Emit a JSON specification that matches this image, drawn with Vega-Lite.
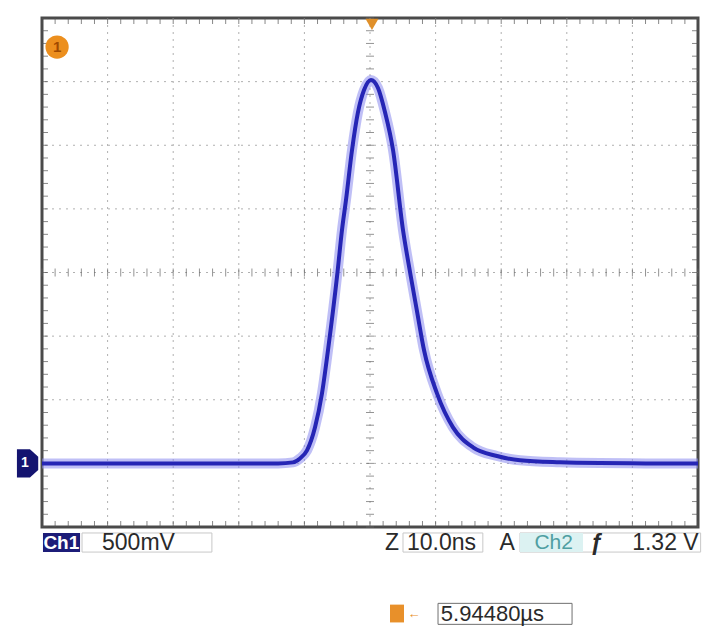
{
  "$schema": "https://vega.github.io/schema/vega-lite/v6.json",
  "width": 656,
  "height": 509,
  "autosize": {"type": "none"},
  "padding": {"left": 42, "top": 18, "right": 6, "bottom": 100},
  "background": "white",
  "config": {
    "view": {"stroke": "#4a4a4a", "strokeWidth": 3},
    "axis": {"disable": true},
    "font": "Liberation Sans"
  },
  "datasets": {
    "one": [{"k": 1}],
    "trace": [
      {"t": -50, "v": 0.0}, {"t": -40, "v": 0.0}, {"t": -30, "v": 0.0}, {"t": -20, "v": 0.0},
      {"t": -14, "v": 0.0}, {"t": -11.74, "v": 0.008}, {"t": -10.67, "v": 0.039}, {"t": -9.6, "v": 0.102},
      {"t": -8.38, "v": 0.283}, {"t": -7.32, "v": 0.55}, {"t": -6.4, "v": 0.891}, {"t": -4.95, "v": 1.504},
      {"t": -4.27, "v": 1.834}, {"t": -3.66, "v": 2.07}, {"t": -2.74, "v": 2.463}, {"t": -1.83, "v": 2.76},
      {"t": -0.91, "v": 2.934}, {"t": 0.15, "v": 3.013}, {"t": 1.22, "v": 2.95}, {"t": 2.29, "v": 2.76},
      {"t": 3.51, "v": 2.463}, {"t": 5.03, "v": 1.834}, {"t": 6.1, "v": 1.504}, {"t": 7.16, "v": 1.197},
      {"t": 8.23, "v": 0.891}, {"t": 10.21, "v": 0.55}, {"t": 12.65, "v": 0.283}, {"t": 15.7, "v": 0.126},
      {"t": 19.36, "v": 0.058}, {"t": 22.87, "v": 0.024}, {"t": 28.96, "v": 0.008}, {"t": 35, "v": 0.002},
      {"t": 42, "v": 0.0}, {"t": 50, "v": 0.0}
    ],
    "gridX": [{"t": -40}, {"t": -30}, {"t": -20}, {"t": -10}, {"t": 0}, {"t": 10}, {"t": 20}, {"t": 30}, {"t": 40}],
    "gridY": [{"v": 0}, {"v": 0.5}, {"v": 1.0}, {"v": 1.5}, {"v": 2.0}, {"v": 2.5}, {"v": 3.0}],
    "minorX": [
      {"t": -50}, {"t": -48}, {"t": -46}, {"t": -44}, {"t": -42}, {"t": -40}, {"t": -38}, {"t": -36}, {"t": -34}, {"t": -32},
      {"t": -30}, {"t": -28}, {"t": -26}, {"t": -24}, {"t": -22}, {"t": -20}, {"t": -18}, {"t": -16}, {"t": -14}, {"t": -12},
      {"t": -10}, {"t": -8}, {"t": -6}, {"t": -4}, {"t": -2}, {"t": 0}, {"t": 2}, {"t": 4}, {"t": 6}, {"t": 8},
      {"t": 10}, {"t": 12}, {"t": 14}, {"t": 16}, {"t": 18}, {"t": 20}, {"t": 22}, {"t": 24}, {"t": 26}, {"t": 28},
      {"t": 30}, {"t": 32}, {"t": 34}, {"t": 36}, {"t": 38}, {"t": 40}, {"t": 42}, {"t": 44}, {"t": 46}, {"t": 48}, {"t": 50}
    ],
    "minorY": [
      {"v": -0.5}, {"v": -0.4}, {"v": -0.3}, {"v": -0.2}, {"v": -0.1}, {"v": 0.0}, {"v": 0.1}, {"v": 0.2}, {"v": 0.3}, {"v": 0.4},
      {"v": 0.5}, {"v": 0.6}, {"v": 0.7}, {"v": 0.8}, {"v": 0.9}, {"v": 1.0}, {"v": 1.1}, {"v": 1.2}, {"v": 1.3}, {"v": 1.4},
      {"v": 1.5}, {"v": 1.6}, {"v": 1.7}, {"v": 1.8}, {"v": 1.9}, {"v": 2.0}, {"v": 2.1}, {"v": 2.2}, {"v": 2.3}, {"v": 2.4},
      {"v": 2.5}, {"v": 2.6}, {"v": 2.7}, {"v": 2.8}, {"v": 2.9}, {"v": 3.0}, {"v": 3.1}, {"v": 3.2}, {"v": 3.3}, {"v": 3.4}, {"v": 3.5}
    ]
  },
  "layer": [
    {
      "data": {"name": "gridX"},
      "mark": {"type": "rule", "color": "#b0b0b0", "strokeDash": [2, 5], "strokeWidth": 1},
      "encoding": {"x": {"field": "t", "type": "quantitative", "scale": {"domain": [-50, 50], "nice": false, "zero": false}, "axis": null}}
    },
    {
      "data": {"name": "gridY"},
      "mark": {"type": "rule", "color": "#b0b0b0", "strokeDash": [2, 5], "strokeWidth": 1},
      "encoding": {"y": {"field": "v", "type": "quantitative", "scale": {"domain": [-0.5, 3.5], "nice": false, "zero": false}, "axis": null}}
    },
    {
      "data": {"name": "minorX"},
      "mark": {"type": "tick", "orient": "vertical", "size": 12, "thickness": 1, "color": "#555555", "clip": true},
      "encoding": {
        "x": {"field": "t", "type": "quantitative", "scale": {"domain": [-50, 50], "nice": false, "zero": false}, "axis": null},
        "y": {"datum": -0.5, "scale": {"domain": [-0.5, 3.5], "nice": false, "zero": false}, "axis": null}
      }
    },
    {
      "data": {"name": "minorX"},
      "mark": {"type": "tick", "orient": "vertical", "size": 12, "thickness": 1, "color": "#555555", "clip": true},
      "encoding": {
        "x": {"field": "t", "type": "quantitative", "scale": {"domain": [-50, 50], "nice": false, "zero": false}, "axis": null},
        "y": {"datum": 3.5, "scale": {"domain": [-0.5, 3.5], "nice": false, "zero": false}, "axis": null}
      }
    },
    {
      "data": {"name": "minorX"},
      "mark": {"type": "tick", "orient": "vertical", "size": 8, "thickness": 1, "color": "#666666"},
      "encoding": {
        "x": {"field": "t", "type": "quantitative", "scale": {"domain": [-50, 50], "nice": false, "zero": false}, "axis": null},
        "y": {"datum": 1.5, "scale": {"domain": [-0.5, 3.5], "nice": false, "zero": false}, "axis": null}
      }
    },
    {
      "data": {"name": "minorY"},
      "mark": {"type": "tick", "orient": "horizontal", "size": 12, "thickness": 1, "color": "#555555", "clip": true},
      "encoding": {
        "y": {"field": "v", "type": "quantitative", "scale": {"domain": [-0.5, 3.5], "nice": false, "zero": false}, "axis": null},
        "x": {"datum": -50, "scale": {"domain": [-50, 50], "nice": false, "zero": false}, "axis": null}
      }
    },
    {
      "data": {"name": "minorY"},
      "mark": {"type": "tick", "orient": "horizontal", "size": 12, "thickness": 1, "color": "#555555", "clip": true},
      "encoding": {
        "y": {"field": "v", "type": "quantitative", "scale": {"domain": [-0.5, 3.5], "nice": false, "zero": false}, "axis": null},
        "x": {"datum": 50, "scale": {"domain": [-50, 50], "nice": false, "zero": false}, "axis": null}
      }
    },
    {
      "data": {"name": "minorY"},
      "mark": {"type": "tick", "orient": "horizontal", "size": 8, "thickness": 1, "color": "#666666"},
      "encoding": {
        "y": {"field": "v", "type": "quantitative", "scale": {"domain": [-0.5, 3.5], "nice": false, "zero": false}, "axis": null},
        "x": {"datum": 0, "scale": {"domain": [-50, 50], "nice": false, "zero": false}, "axis": null}
      }
    },
    {
      "data": {"name": "trace"},
      "mark": {"type": "line", "interpolate": "monotone", "color": "#8a8aee", "strokeWidth": 10, "opacity": 0.55, "clip": true},
      "encoding": {
        "x": {"field": "t", "type": "quantitative", "scale": {"domain": [-50, 50], "nice": false, "zero": false}, "axis": null},
        "y": {"field": "v", "type": "quantitative", "scale": {"domain": [-0.5, 3.5], "nice": false, "zero": false}, "axis": null}
      }
    },
    {
      "data": {"name": "trace"},
      "mark": {"type": "line", "interpolate": "monotone", "color": "#2525b5", "strokeWidth": 4, "clip": true},
      "encoding": {
        "x": {"field": "t", "type": "quantitative", "scale": {"domain": [-50, 50], "nice": false, "zero": false}, "axis": null},
        "y": {"field": "v", "type": "quantitative", "scale": {"domain": [-0.5, 3.5], "nice": false, "zero": false}, "axis": null}
      }
    },
    {
      "data": {"name": "one"},
      "mark": {"type": "point", "shape": "M-0.9,-1.2L0.2,-1.2L0.9,-0.55L0.9,0.55L0.2,1.2L-0.9,1.2Z", "filled": true, "color": "#141470", "opacity": 1, "size": 560, "clip": false},
      "encoding": {
        "x": {"datum": -52.2, "scale": {"domain": [-50, 50], "nice": false, "zero": false}, "axis": null},
        "y": {"datum": 0, "scale": {"domain": [-0.5, 3.5], "nice": false, "zero": false}, "axis": null}
      }
    },
    {
      "data": {"name": "one"},
      "mark": {"type": "text", "text": "1", "color": "#ffffff", "fontSize": 14, "fontWeight": "bold", "baseline": "middle", "align": "center"},
      "encoding": {
        "x": {"datum": -52.6, "scale": {"domain": [-50, 50], "nice": false, "zero": false}, "axis": null},
        "y": {"datum": 0, "scale": {"domain": [-0.5, 3.5], "nice": false, "zero": false}, "axis": null}
      }
    },
    {
      "data": {"name": "one"},
      "mark": {"type": "point", "shape": "circle", "filled": true, "color": "#ec8f1e", "opacity": 1, "size": 540},
      "encoding": {
        "x": {"datum": -47.7, "scale": {"domain": [-50, 50], "nice": false, "zero": false}, "axis": null},
        "y": {"datum": 3.272, "scale": {"domain": [-0.5, 3.5], "nice": false, "zero": false}, "axis": null}
      }
    },
    {
      "data": {"name": "one"},
      "mark": {"type": "text", "text": "1", "color": "#a04a00", "fontSize": 15, "fontWeight": "bold", "baseline": "middle", "align": "center"},
      "encoding": {
        "x": {"datum": -47.7, "scale": {"domain": [-50, 50], "nice": false, "zero": false}, "axis": null},
        "y": {"datum": 3.272, "scale": {"domain": [-0.5, 3.5], "nice": false, "zero": false}, "axis": null}
      }
    },
    {
      "data": {"name": "one"},
      "mark": {"type": "point", "shape": "triangle-down", "filled": true, "color": "#e0902a", "opacity": 1, "size": 170, "clip": false},
      "encoding": {
        "x": {"datum": 0.3, "scale": {"domain": [-50, 50], "nice": false, "zero": false}, "axis": null},
        "y": {"datum": 3.45, "scale": {"domain": [-0.5, 3.5], "nice": false, "zero": false}, "axis": null}
      }
    },
    {
      "data": {"name": "one"},
      "mark": {"type": "rect", "color": "#1c1c78", "clip": false},
      "encoding": {
        "x": {"datum": -49.85, "scale": {"domain": [-50, 50], "nice": false, "zero": false}, "axis": null},
        "x2": {"datum": -44.2},
        "y": {"datum": -0.547, "scale": {"domain": [-0.5, 3.5], "nice": false, "zero": false}, "axis": null},
        "y2": {"datum": -0.697}
      }
    },
    {
      "data": {"name": "one"},
      "mark": {"type": "rect", "filled": false, "stroke": "#c8c8c8", "strokeWidth": 1, "clip": false},
      "encoding": {
        "x": {"datum": -43.9, "scale": {"domain": [-50, 50], "nice": false, "zero": false}, "axis": null},
        "x2": {"datum": -24.1},
        "y": {"datum": -0.547, "scale": {"domain": [-0.5, 3.5], "nice": false, "zero": false}, "axis": null},
        "y2": {"datum": -0.697}
      }
    },
    {
      "data": {"name": "one"},
      "mark": {"type": "rect", "filled": false, "stroke": "#c8c8c8", "strokeWidth": 1, "clip": false},
      "encoding": {
        "x": {"datum": 5.03, "scale": {"domain": [-50, 50], "nice": false, "zero": false}, "axis": null},
        "x2": {"datum": 17.2},
        "y": {"datum": -0.547, "scale": {"domain": [-0.5, 3.5], "nice": false, "zero": false}, "axis": null},
        "y2": {"datum": -0.697}
      }
    },
    {
      "data": {"name": "one"},
      "mark": {"type": "rect", "filled": false, "stroke": "#c8c8c8", "strokeWidth": 1, "clip": false},
      "encoding": {
        "x": {"datum": 22.87, "scale": {"domain": [-50, 50], "nice": false, "zero": false}, "axis": null},
        "x2": {"datum": 50.4},
        "y": {"datum": -0.547, "scale": {"domain": [-0.5, 3.5], "nice": false, "zero": false}, "axis": null},
        "y2": {"datum": -0.697}
      }
    },
    {
      "data": {"name": "one"},
      "mark": {"type": "rect", "color": "#dcf2f2", "clip": false},
      "encoding": {
        "x": {"datum": 22.87, "scale": {"domain": [-50, 50], "nice": false, "zero": false}, "axis": null},
        "x2": {"datum": 32.47},
        "y": {"datum": -0.547, "scale": {"domain": [-0.5, 3.5], "nice": false, "zero": false}, "axis": null},
        "y2": {"datum": -0.697}
      }
    },
    {
      "data": {"name": "one"},
      "mark": {"type": "rect", "filled": false, "stroke": "#707070", "strokeWidth": 1, "clip": false},
      "encoding": {
        "x": {"datum": 10.37, "scale": {"domain": [-50, 50], "nice": false, "zero": false}, "axis": null},
        "x2": {"datum": 30.8},
        "y": {"datum": -1.1, "scale": {"domain": [-0.5, 3.5], "nice": false, "zero": false}, "axis": null},
        "y2": {"datum": -1.265}
      }
    },
    {
      "data": {"name": "one"},
      "mark": {"type": "rect", "color": "#e8902a", "clip": false},
      "encoding": {
        "x": {"datum": 3.05, "scale": {"domain": [-50, 50], "nice": false, "zero": false}, "axis": null},
        "x2": {"datum": 5.18},
        "y": {"datum": -1.11, "scale": {"domain": [-0.5, 3.5], "nice": false, "zero": false}, "axis": null},
        "y2": {"datum": -1.25}
      }
    },
    {
      "data": {"name": "one"},
      "mark": {"type": "text", "text": "Ch1", "color": "#ffffff", "fontSize": 19, "fontWeight": "bold", "align": "center", "baseline": "middle"},
      "encoding": {
        "x": {"datum": -47.05, "scale": {"domain": [-50, 50], "nice": false, "zero": false}, "axis": null},
        "y": {"datum": -0.622, "scale": {"domain": [-0.5, 3.5], "nice": false, "zero": false}, "axis": null}
      }
    },
    {
      "data": {"name": "one"},
      "mark": {"type": "text", "text": "500mV", "color": "#2a2a2a", "fontSize": 23, "align": "left", "baseline": "middle"},
      "encoding": {
        "x": {"datum": -40.85, "scale": {"domain": [-50, 50], "nice": false, "zero": false}, "axis": null},
        "y": {"datum": -0.622, "scale": {"domain": [-0.5, 3.5], "nice": false, "zero": false}, "axis": null}
      }
    },
    {
      "data": {"name": "one"},
      "mark": {"type": "text", "text": "Z", "color": "#2a2a2a", "fontSize": 23, "align": "center", "baseline": "middle"},
      "encoding": {
        "x": {"datum": 3.35, "scale": {"domain": [-50, 50], "nice": false, "zero": false}, "axis": null},
        "y": {"datum": -0.622, "scale": {"domain": [-0.5, 3.5], "nice": false, "zero": false}, "axis": null}
      }
    },
    {
      "data": {"name": "one"},
      "mark": {"type": "text", "text": "10.0ns", "color": "#2a2a2a", "fontSize": 23, "align": "left", "baseline": "middle"},
      "encoding": {
        "x": {"datum": 5.64, "scale": {"domain": [-50, 50], "nice": false, "zero": false}, "axis": null},
        "y": {"datum": -0.622, "scale": {"domain": [-0.5, 3.5], "nice": false, "zero": false}, "axis": null}
      }
    },
    {
      "data": {"name": "one"},
      "mark": {"type": "text", "text": "A", "color": "#2a2a2a", "fontSize": 23, "align": "center", "baseline": "middle"},
      "encoding": {
        "x": {"datum": 20.9, "scale": {"domain": [-50, 50], "nice": false, "zero": false}, "axis": null},
        "y": {"datum": -0.622, "scale": {"domain": [-0.5, 3.5], "nice": false, "zero": false}, "axis": null}
      }
    },
    {
      "data": {"name": "one"},
      "mark": {"type": "text", "text": "Ch2", "color": "#4f9fa2", "fontSize": 21, "align": "center", "baseline": "middle"},
      "encoding": {
        "x": {"datum": 28.0, "scale": {"domain": [-50, 50], "nice": false, "zero": false}, "axis": null},
        "y": {"datum": -0.622, "scale": {"domain": [-0.5, 3.5], "nice": false, "zero": false}, "axis": null}
      }
    },
    {
      "data": {"name": "one"},
      "mark": {"type": "text", "text": "ƒ", "color": "#2a2a2a", "fontSize": 23, "fontWeight": "bold", "align": "center", "baseline": "middle"},
      "encoding": {
        "x": {"datum": 34.6, "scale": {"domain": [-50, 50], "nice": false, "zero": false}, "axis": null},
        "y": {"datum": -0.622, "scale": {"domain": [-0.5, 3.5], "nice": false, "zero": false}, "axis": null}
      }
    },
    {
      "data": {"name": "one"},
      "mark": {"type": "text", "text": "1.32 V", "color": "#2a2a2a", "fontSize": 23, "align": "right", "baseline": "middle"},
      "encoding": {
        "x": {"datum": 50.1, "scale": {"domain": [-50, 50], "nice": false, "zero": false}, "axis": null},
        "y": {"datum": -0.622, "scale": {"domain": [-0.5, 3.5], "nice": false, "zero": false}, "axis": null}
      }
    },
    {
      "data": {"name": "one"},
      "mark": {"type": "text", "text": "←", "color": "#e8902a", "fontSize": 13, "align": "center", "baseline": "middle"},
      "encoding": {
        "x": {"datum": 6.7, "scale": {"domain": [-50, 50], "nice": false, "zero": false}, "axis": null},
        "y": {"datum": -1.18, "scale": {"domain": [-0.5, 3.5], "nice": false, "zero": false}, "axis": null}
      }
    },
    {
      "data": {"name": "one"},
      "mark": {"type": "text", "text": "5.94480µs", "color": "#2a2a2a", "fontSize": 22, "align": "left", "baseline": "middle"},
      "encoding": {
        "x": {"datum": 10.8, "scale": {"domain": [-50, 50], "nice": false, "zero": false}, "axis": null},
        "y": {"datum": -1.18, "scale": {"domain": [-0.5, 3.5], "nice": false, "zero": false}, "axis": null}
      }
    }
  ]
}
